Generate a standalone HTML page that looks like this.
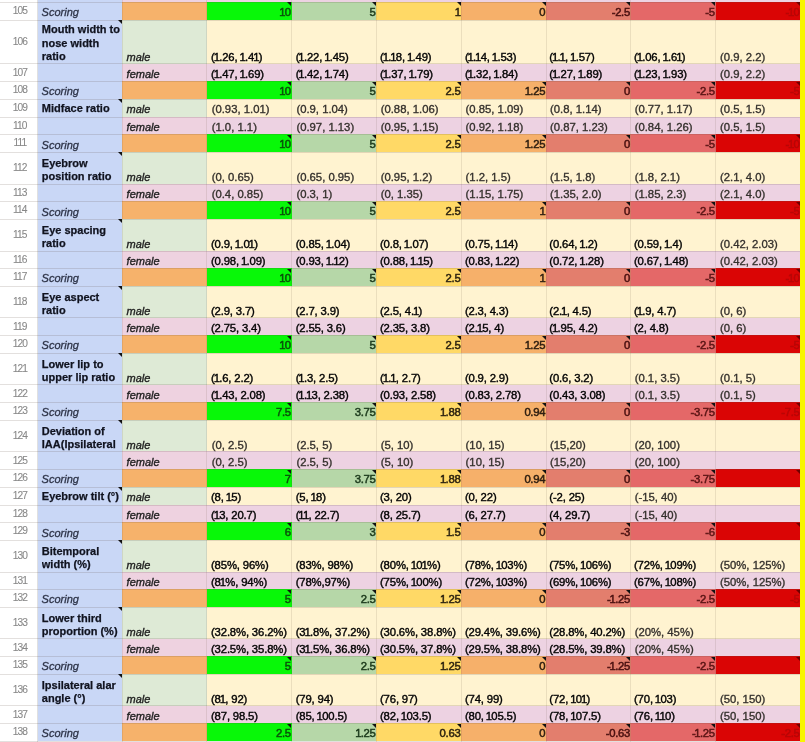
<!DOCTYPE html><html><head><meta charset="utf-8"><style>
html,body{margin:0;padding:0;}
body{width:805px;height:742px;overflow:hidden;position:relative;background:#fff;font-family:"Liberation Sans",sans-serif;}
.wrap{position:absolute;left:0;top:0;width:805px;height:742px;overflow:hidden;filter:blur(0.35px);}
.b{position:absolute;}
.hl{position:absolute;left:0;width:800px;height:1px;background:rgba(90,70,60,0.17);}
.hr{position:absolute;top:0;height:742px;width:1px;background:rgba(0,0,0,0.12);}
.vl{position:absolute;top:0;height:742px;width:1px;background:rgba(90,70,60,0.12);}
.t{position:absolute;white-space:nowrap;height:20px;line-height:20px;}
.o{margin-left:-1px;letter-spacing:-0.7px;}
.rn{width:39px;text-align:center;color:#888;letter-spacing:-0.9px;-webkit-text-stroke:0.1px currentColor;}
.sc{font-style:italic;color:#2e3448;-webkit-text-stroke:0.3px currentColor;}
.g{font-style:italic;color:#222;-webkit-text-stroke:0.35px currentColor;}
.dv{color:#050505;letter-spacing:-0.15px;-webkit-text-stroke:0.4px currentColor;}
.dg{color:#35312d;-webkit-text-stroke:0.35px currentColor;}
.sv{letter-spacing:-0.3px;-webkit-text-stroke:0.5px currentColor;}
.lab{position:absolute;width:82px;font-size:11px;line-height:13.4px;font-weight:bold;color:#10131f;-webkit-text-stroke:0.25px currentColor;overflow:hidden;}
.tri{position:absolute;width:0;height:0;border-top:4.5px solid #111;border-left:4.5px solid transparent;}
</style></head><body><div class="wrap"><div class="b" style="left:37.60px;top:0.00px;width:84.50px;height:1.90px;background:#c9d7f6"></div>
<div class="b" style="left:122.10px;top:0.00px;width:84.80px;height:1.90px;background:#eed2e0"></div>
<div class="b" style="left:206.90px;top:0.00px;width:593.53px;height:1.90px;background:#edd2e2"></div>
<div class="b" style="left:800.43px;top:0.00px;width:4.57px;height:742.00px;background:#f8f500"></div>
<div class="b" style="left:37.60px;top:1.90px;width:84.50px;height:17.73px;background:#c9d7f6"></div>
<div class="b" style="left:122.10px;top:1.90px;width:84.80px;height:17.73px;background:#f6b26b"></div>
<div class="b" style="left:206.90px;top:1.90px;width:84.79px;height:17.73px;background:#08f808"></div>
<div class="b" style="left:291.69px;top:1.90px;width:84.79px;height:17.73px;background:#b6d7a8"></div>
<div class="b" style="left:376.48px;top:1.90px;width:84.79px;height:17.73px;background:#ffd966"></div>
<div class="b" style="left:461.27px;top:1.90px;width:84.79px;height:17.73px;background:#f6b06a"></div>
<div class="b" style="left:546.06px;top:1.90px;width:84.79px;height:17.73px;background:#e37e6d"></div>
<div class="b" style="left:630.85px;top:1.90px;width:84.79px;height:17.73px;background:#e46868"></div>
<div class="b" style="left:715.64px;top:1.90px;width:84.79px;height:17.73px;background:#da0505"></div>
<div class="b" style="left:37.60px;top:19.63px;width:84.50px;height:43.89px;background:#c9d7f6"></div>
<div class="b" style="left:122.10px;top:19.63px;width:84.80px;height:43.89px;background:#deead6"></div>
<div class="b" style="left:206.90px;top:19.63px;width:593.53px;height:43.89px;background:#fff3d0"></div>
<div class="b" style="left:37.60px;top:63.52px;width:84.50px;height:17.73px;background:#c9d7f6"></div>
<div class="b" style="left:122.10px;top:63.52px;width:84.80px;height:17.73px;background:#eed2e0"></div>
<div class="b" style="left:206.90px;top:63.52px;width:593.53px;height:17.73px;background:#edd2e2"></div>
<div class="b" style="left:37.60px;top:81.25px;width:84.50px;height:17.73px;background:#c9d7f6"></div>
<div class="b" style="left:122.10px;top:81.25px;width:84.80px;height:17.73px;background:#f6b26b"></div>
<div class="b" style="left:206.90px;top:81.25px;width:84.79px;height:17.73px;background:#08f808"></div>
<div class="b" style="left:291.69px;top:81.25px;width:84.79px;height:17.73px;background:#b6d7a8"></div>
<div class="b" style="left:376.48px;top:81.25px;width:84.79px;height:17.73px;background:#ffd966"></div>
<div class="b" style="left:461.27px;top:81.25px;width:84.79px;height:17.73px;background:#f6b06a"></div>
<div class="b" style="left:546.06px;top:81.25px;width:84.79px;height:17.73px;background:#e37e6d"></div>
<div class="b" style="left:630.85px;top:81.25px;width:84.79px;height:17.73px;background:#e46868"></div>
<div class="b" style="left:715.64px;top:81.25px;width:84.79px;height:17.73px;background:#da0505"></div>
<div class="b" style="left:37.60px;top:98.99px;width:84.50px;height:17.73px;background:#c9d7f6"></div>
<div class="b" style="left:122.10px;top:98.99px;width:84.80px;height:17.73px;background:#deead6"></div>
<div class="b" style="left:206.90px;top:98.99px;width:593.53px;height:17.73px;background:#fff3d0"></div>
<div class="b" style="left:37.60px;top:116.72px;width:84.50px;height:17.73px;background:#c9d7f6"></div>
<div class="b" style="left:122.10px;top:116.72px;width:84.80px;height:17.73px;background:#eed2e0"></div>
<div class="b" style="left:206.90px;top:116.72px;width:593.53px;height:17.73px;background:#edd2e2"></div>
<div class="b" style="left:37.60px;top:134.45px;width:84.50px;height:17.73px;background:#c9d7f6"></div>
<div class="b" style="left:122.10px;top:134.45px;width:84.80px;height:17.73px;background:#f6b26b"></div>
<div class="b" style="left:206.90px;top:134.45px;width:84.79px;height:17.73px;background:#08f808"></div>
<div class="b" style="left:291.69px;top:134.45px;width:84.79px;height:17.73px;background:#b6d7a8"></div>
<div class="b" style="left:376.48px;top:134.45px;width:84.79px;height:17.73px;background:#ffd966"></div>
<div class="b" style="left:461.27px;top:134.45px;width:84.79px;height:17.73px;background:#f6b06a"></div>
<div class="b" style="left:546.06px;top:134.45px;width:84.79px;height:17.73px;background:#e37e6d"></div>
<div class="b" style="left:630.85px;top:134.45px;width:84.79px;height:17.73px;background:#e46868"></div>
<div class="b" style="left:715.64px;top:134.45px;width:84.79px;height:17.73px;background:#da0505"></div>
<div class="b" style="left:37.60px;top:152.19px;width:84.50px;height:31.49px;background:#c9d7f6"></div>
<div class="b" style="left:122.10px;top:152.19px;width:84.80px;height:31.49px;background:#deead6"></div>
<div class="b" style="left:206.90px;top:152.19px;width:593.53px;height:31.49px;background:#fff3d0"></div>
<div class="b" style="left:37.60px;top:183.67px;width:84.50px;height:17.73px;background:#c9d7f6"></div>
<div class="b" style="left:122.10px;top:183.67px;width:84.80px;height:17.73px;background:#eed2e0"></div>
<div class="b" style="left:206.90px;top:183.67px;width:593.53px;height:17.73px;background:#edd2e2"></div>
<div class="b" style="left:37.60px;top:201.41px;width:84.50px;height:17.73px;background:#c9d7f6"></div>
<div class="b" style="left:122.10px;top:201.41px;width:84.80px;height:17.73px;background:#f6b26b"></div>
<div class="b" style="left:206.90px;top:201.41px;width:84.79px;height:17.73px;background:#08f808"></div>
<div class="b" style="left:291.69px;top:201.41px;width:84.79px;height:17.73px;background:#b6d7a8"></div>
<div class="b" style="left:376.48px;top:201.41px;width:84.79px;height:17.73px;background:#ffd966"></div>
<div class="b" style="left:461.27px;top:201.41px;width:84.79px;height:17.73px;background:#f6b06a"></div>
<div class="b" style="left:546.06px;top:201.41px;width:84.79px;height:17.73px;background:#e37e6d"></div>
<div class="b" style="left:630.85px;top:201.41px;width:84.79px;height:17.73px;background:#e46868"></div>
<div class="b" style="left:715.64px;top:201.41px;width:84.79px;height:17.73px;background:#da0505"></div>
<div class="b" style="left:37.60px;top:219.14px;width:84.50px;height:31.49px;background:#c9d7f6"></div>
<div class="b" style="left:122.10px;top:219.14px;width:84.80px;height:31.49px;background:#deead6"></div>
<div class="b" style="left:206.90px;top:219.14px;width:593.53px;height:31.49px;background:#fff3d0"></div>
<div class="b" style="left:37.60px;top:250.62px;width:84.50px;height:17.73px;background:#c9d7f6"></div>
<div class="b" style="left:122.10px;top:250.62px;width:84.80px;height:17.73px;background:#eed2e0"></div>
<div class="b" style="left:206.90px;top:250.62px;width:593.53px;height:17.73px;background:#edd2e2"></div>
<div class="b" style="left:37.60px;top:268.36px;width:84.50px;height:17.73px;background:#c9d7f6"></div>
<div class="b" style="left:122.10px;top:268.36px;width:84.80px;height:17.73px;background:#f6b26b"></div>
<div class="b" style="left:206.90px;top:268.36px;width:84.79px;height:17.73px;background:#08f808"></div>
<div class="b" style="left:291.69px;top:268.36px;width:84.79px;height:17.73px;background:#b6d7a8"></div>
<div class="b" style="left:376.48px;top:268.36px;width:84.79px;height:17.73px;background:#ffd966"></div>
<div class="b" style="left:461.27px;top:268.36px;width:84.79px;height:17.73px;background:#f6b06a"></div>
<div class="b" style="left:546.06px;top:268.36px;width:84.79px;height:17.73px;background:#e37e6d"></div>
<div class="b" style="left:630.85px;top:268.36px;width:84.79px;height:17.73px;background:#e46868"></div>
<div class="b" style="left:715.64px;top:268.36px;width:84.79px;height:17.73px;background:#da0505"></div>
<div class="b" style="left:37.60px;top:286.09px;width:84.50px;height:31.49px;background:#c9d7f6"></div>
<div class="b" style="left:122.10px;top:286.09px;width:84.80px;height:31.49px;background:#deead6"></div>
<div class="b" style="left:206.90px;top:286.09px;width:593.53px;height:31.49px;background:#fff3d0"></div>
<div class="b" style="left:37.60px;top:317.58px;width:84.50px;height:17.73px;background:#c9d7f6"></div>
<div class="b" style="left:122.10px;top:317.58px;width:84.80px;height:17.73px;background:#eed2e0"></div>
<div class="b" style="left:206.90px;top:317.58px;width:593.53px;height:17.73px;background:#edd2e2"></div>
<div class="b" style="left:37.60px;top:335.31px;width:84.50px;height:17.73px;background:#c9d7f6"></div>
<div class="b" style="left:122.10px;top:335.31px;width:84.80px;height:17.73px;background:#f6b26b"></div>
<div class="b" style="left:206.90px;top:335.31px;width:84.79px;height:17.73px;background:#08f808"></div>
<div class="b" style="left:291.69px;top:335.31px;width:84.79px;height:17.73px;background:#b6d7a8"></div>
<div class="b" style="left:376.48px;top:335.31px;width:84.79px;height:17.73px;background:#ffd966"></div>
<div class="b" style="left:461.27px;top:335.31px;width:84.79px;height:17.73px;background:#f6b06a"></div>
<div class="b" style="left:546.06px;top:335.31px;width:84.79px;height:17.73px;background:#e37e6d"></div>
<div class="b" style="left:630.85px;top:335.31px;width:84.79px;height:17.73px;background:#e46868"></div>
<div class="b" style="left:715.64px;top:335.31px;width:84.79px;height:17.73px;background:#da0505"></div>
<div class="b" style="left:37.60px;top:353.04px;width:84.50px;height:31.49px;background:#c9d7f6"></div>
<div class="b" style="left:122.10px;top:353.04px;width:84.80px;height:31.49px;background:#deead6"></div>
<div class="b" style="left:206.90px;top:353.04px;width:593.53px;height:31.49px;background:#fff3d0"></div>
<div class="b" style="left:37.60px;top:384.53px;width:84.50px;height:17.73px;background:#c9d7f6"></div>
<div class="b" style="left:122.10px;top:384.53px;width:84.80px;height:17.73px;background:#eed2e0"></div>
<div class="b" style="left:206.90px;top:384.53px;width:593.53px;height:17.73px;background:#edd2e2"></div>
<div class="b" style="left:37.60px;top:402.26px;width:84.50px;height:17.73px;background:#c9d7f6"></div>
<div class="b" style="left:122.10px;top:402.26px;width:84.80px;height:17.73px;background:#f6b26b"></div>
<div class="b" style="left:206.90px;top:402.26px;width:84.79px;height:17.73px;background:#08f808"></div>
<div class="b" style="left:291.69px;top:402.26px;width:84.79px;height:17.73px;background:#b6d7a8"></div>
<div class="b" style="left:376.48px;top:402.26px;width:84.79px;height:17.73px;background:#ffd966"></div>
<div class="b" style="left:461.27px;top:402.26px;width:84.79px;height:17.73px;background:#f6b06a"></div>
<div class="b" style="left:546.06px;top:402.26px;width:84.79px;height:17.73px;background:#e37e6d"></div>
<div class="b" style="left:630.85px;top:402.26px;width:84.79px;height:17.73px;background:#e46868"></div>
<div class="b" style="left:715.64px;top:402.26px;width:84.79px;height:17.73px;background:#da0505"></div>
<div class="b" style="left:37.60px;top:419.99px;width:84.50px;height:31.49px;background:#c9d7f6"></div>
<div class="b" style="left:122.10px;top:419.99px;width:84.80px;height:31.49px;background:#deead6"></div>
<div class="b" style="left:206.90px;top:419.99px;width:593.53px;height:31.49px;background:#fff3d0"></div>
<div class="b" style="left:37.60px;top:451.48px;width:84.50px;height:17.73px;background:#c9d7f6"></div>
<div class="b" style="left:122.10px;top:451.48px;width:84.80px;height:17.73px;background:#eed2e0"></div>
<div class="b" style="left:206.90px;top:451.48px;width:593.53px;height:17.73px;background:#edd2e2"></div>
<div class="b" style="left:37.60px;top:469.21px;width:84.50px;height:17.73px;background:#c9d7f6"></div>
<div class="b" style="left:122.10px;top:469.21px;width:84.80px;height:17.73px;background:#f6b26b"></div>
<div class="b" style="left:206.90px;top:469.21px;width:84.79px;height:17.73px;background:#08f808"></div>
<div class="b" style="left:291.69px;top:469.21px;width:84.79px;height:17.73px;background:#b6d7a8"></div>
<div class="b" style="left:376.48px;top:469.21px;width:84.79px;height:17.73px;background:#ffd966"></div>
<div class="b" style="left:461.27px;top:469.21px;width:84.79px;height:17.73px;background:#f6b06a"></div>
<div class="b" style="left:546.06px;top:469.21px;width:84.79px;height:17.73px;background:#e37e6d"></div>
<div class="b" style="left:630.85px;top:469.21px;width:84.79px;height:17.73px;background:#e46868"></div>
<div class="b" style="left:715.64px;top:469.21px;width:84.79px;height:17.73px;background:#da0505"></div>
<div class="b" style="left:37.60px;top:486.95px;width:84.50px;height:17.73px;background:#c9d7f6"></div>
<div class="b" style="left:122.10px;top:486.95px;width:84.80px;height:17.73px;background:#deead6"></div>
<div class="b" style="left:206.90px;top:486.95px;width:593.53px;height:17.73px;background:#fff3d0"></div>
<div class="b" style="left:37.60px;top:504.68px;width:84.50px;height:17.73px;background:#c9d7f6"></div>
<div class="b" style="left:122.10px;top:504.68px;width:84.80px;height:17.73px;background:#eed2e0"></div>
<div class="b" style="left:206.90px;top:504.68px;width:593.53px;height:17.73px;background:#edd2e2"></div>
<div class="b" style="left:37.60px;top:522.41px;width:84.50px;height:17.73px;background:#c9d7f6"></div>
<div class="b" style="left:122.10px;top:522.41px;width:84.80px;height:17.73px;background:#f6b26b"></div>
<div class="b" style="left:206.90px;top:522.41px;width:84.79px;height:17.73px;background:#08f808"></div>
<div class="b" style="left:291.69px;top:522.41px;width:84.79px;height:17.73px;background:#b6d7a8"></div>
<div class="b" style="left:376.48px;top:522.41px;width:84.79px;height:17.73px;background:#ffd966"></div>
<div class="b" style="left:461.27px;top:522.41px;width:84.79px;height:17.73px;background:#f6b06a"></div>
<div class="b" style="left:546.06px;top:522.41px;width:84.79px;height:17.73px;background:#e37e6d"></div>
<div class="b" style="left:630.85px;top:522.41px;width:84.79px;height:17.73px;background:#e46868"></div>
<div class="b" style="left:715.64px;top:522.41px;width:84.79px;height:17.73px;background:#da0505"></div>
<div class="b" style="left:37.60px;top:540.14px;width:84.50px;height:31.49px;background:#c9d7f6"></div>
<div class="b" style="left:122.10px;top:540.14px;width:84.80px;height:31.49px;background:#deead6"></div>
<div class="b" style="left:206.90px;top:540.14px;width:593.53px;height:31.49px;background:#fff3d0"></div>
<div class="b" style="left:37.60px;top:571.63px;width:84.50px;height:17.73px;background:#c9d7f6"></div>
<div class="b" style="left:122.10px;top:571.63px;width:84.80px;height:17.73px;background:#eed2e0"></div>
<div class="b" style="left:206.90px;top:571.63px;width:593.53px;height:17.73px;background:#edd2e2"></div>
<div class="b" style="left:37.60px;top:589.36px;width:84.50px;height:17.73px;background:#c9d7f6"></div>
<div class="b" style="left:122.10px;top:589.36px;width:84.80px;height:17.73px;background:#f6b26b"></div>
<div class="b" style="left:206.90px;top:589.36px;width:84.79px;height:17.73px;background:#08f808"></div>
<div class="b" style="left:291.69px;top:589.36px;width:84.79px;height:17.73px;background:#b6d7a8"></div>
<div class="b" style="left:376.48px;top:589.36px;width:84.79px;height:17.73px;background:#ffd966"></div>
<div class="b" style="left:461.27px;top:589.36px;width:84.79px;height:17.73px;background:#f6b06a"></div>
<div class="b" style="left:546.06px;top:589.36px;width:84.79px;height:17.73px;background:#e37e6d"></div>
<div class="b" style="left:630.85px;top:589.36px;width:84.79px;height:17.73px;background:#e46868"></div>
<div class="b" style="left:715.64px;top:589.36px;width:84.79px;height:17.73px;background:#da0505"></div>
<div class="b" style="left:37.60px;top:607.10px;width:84.50px;height:31.49px;background:#c9d7f6"></div>
<div class="b" style="left:122.10px;top:607.10px;width:84.80px;height:31.49px;background:#deead6"></div>
<div class="b" style="left:206.90px;top:607.10px;width:593.53px;height:31.49px;background:#fff3d0"></div>
<div class="b" style="left:37.60px;top:638.58px;width:84.50px;height:17.73px;background:#c9d7f6"></div>
<div class="b" style="left:122.10px;top:638.58px;width:84.80px;height:17.73px;background:#eed2e0"></div>
<div class="b" style="left:206.90px;top:638.58px;width:593.53px;height:17.73px;background:#edd2e2"></div>
<div class="b" style="left:37.60px;top:656.32px;width:84.50px;height:17.73px;background:#c9d7f6"></div>
<div class="b" style="left:122.10px;top:656.32px;width:84.80px;height:17.73px;background:#f6b26b"></div>
<div class="b" style="left:206.90px;top:656.32px;width:84.79px;height:17.73px;background:#08f808"></div>
<div class="b" style="left:291.69px;top:656.32px;width:84.79px;height:17.73px;background:#b6d7a8"></div>
<div class="b" style="left:376.48px;top:656.32px;width:84.79px;height:17.73px;background:#ffd966"></div>
<div class="b" style="left:461.27px;top:656.32px;width:84.79px;height:17.73px;background:#f6b06a"></div>
<div class="b" style="left:546.06px;top:656.32px;width:84.79px;height:17.73px;background:#e37e6d"></div>
<div class="b" style="left:630.85px;top:656.32px;width:84.79px;height:17.73px;background:#e46868"></div>
<div class="b" style="left:715.64px;top:656.32px;width:84.79px;height:17.73px;background:#da0505"></div>
<div class="b" style="left:37.60px;top:674.05px;width:84.50px;height:31.49px;background:#c9d7f6"></div>
<div class="b" style="left:122.10px;top:674.05px;width:84.80px;height:31.49px;background:#deead6"></div>
<div class="b" style="left:206.90px;top:674.05px;width:593.53px;height:31.49px;background:#fff3d0"></div>
<div class="b" style="left:37.60px;top:705.53px;width:84.50px;height:17.73px;background:#c9d7f6"></div>
<div class="b" style="left:122.10px;top:705.53px;width:84.80px;height:17.73px;background:#eed2e0"></div>
<div class="b" style="left:206.90px;top:705.53px;width:593.53px;height:17.73px;background:#edd2e2"></div>
<div class="b" style="left:37.60px;top:723.27px;width:84.50px;height:17.73px;background:#c9d7f6"></div>
<div class="b" style="left:122.10px;top:723.27px;width:84.80px;height:17.73px;background:#f6b26b"></div>
<div class="b" style="left:206.90px;top:723.27px;width:84.79px;height:17.73px;background:#08f808"></div>
<div class="b" style="left:291.69px;top:723.27px;width:84.79px;height:17.73px;background:#b6d7a8"></div>
<div class="b" style="left:376.48px;top:723.27px;width:84.79px;height:17.73px;background:#ffd966"></div>
<div class="b" style="left:461.27px;top:723.27px;width:84.79px;height:17.73px;background:#f6b06a"></div>
<div class="b" style="left:546.06px;top:723.27px;width:84.79px;height:17.73px;background:#e37e6d"></div>
<div class="b" style="left:630.85px;top:723.27px;width:84.79px;height:17.73px;background:#e46868"></div>
<div class="b" style="left:715.64px;top:723.27px;width:84.79px;height:17.73px;background:#da0505"></div>
<div class="hl" style="top:1.80px"></div>
<div class="hl" style="top:19.53px"></div>
<div class="hl" style="top:63.42px"></div>
<div class="hl" style="top:81.15px"></div>
<div class="hl" style="top:98.89px"></div>
<div class="hl" style="top:116.62px"></div>
<div class="hl" style="top:134.35px"></div>
<div class="hl" style="top:152.09px"></div>
<div class="hl" style="top:183.57px"></div>
<div class="hl" style="top:201.31px"></div>
<div class="hl" style="top:219.04px"></div>
<div class="hl" style="top:250.52px"></div>
<div class="hl" style="top:268.26px"></div>
<div class="hl" style="top:285.99px"></div>
<div class="hl" style="top:317.48px"></div>
<div class="hl" style="top:335.21px"></div>
<div class="hl" style="top:352.94px"></div>
<div class="hl" style="top:384.43px"></div>
<div class="hl" style="top:402.16px"></div>
<div class="hl" style="top:419.89px"></div>
<div class="hl" style="top:451.38px"></div>
<div class="hl" style="top:469.11px"></div>
<div class="hl" style="top:486.85px"></div>
<div class="hl" style="top:504.58px"></div>
<div class="hl" style="top:522.31px"></div>
<div class="hl" style="top:540.04px"></div>
<div class="hl" style="top:571.53px"></div>
<div class="hl" style="top:589.26px"></div>
<div class="hl" style="top:607.00px"></div>
<div class="hl" style="top:638.48px"></div>
<div class="hl" style="top:656.22px"></div>
<div class="hl" style="top:673.95px"></div>
<div class="hl" style="top:705.43px"></div>
<div class="hl" style="top:723.17px"></div>
<div class="hl" style="top:740.90px"></div>
<div class="hr" style="left:37.10px"></div>
<div class="vl" style="left:121.60px"></div>
<div class="vl" style="left:206.40px"></div>
<div class="vl" style="left:291.19px"></div>
<div class="vl" style="left:375.98px"></div>
<div class="vl" style="left:460.77px"></div>
<div class="vl" style="left:545.56px"></div>
<div class="vl" style="left:630.35px"></div>
<div class="vl" style="left:715.14px"></div>
<div class="t rn" style="left:0.30px;top:0.93px;font-size:10.2px;">105</div>
<div class="t sc" style="left:41.60px;top:2.02px;font-size:11px;">Scoring</div>
<div class="t sv" style="right:514.21px;top:1.92px;font-size:11.3px;color:#0a500a"><span class="o">1</span>0</div>
<div class="t sv" style="right:429.42px;top:1.92px;font-size:11.3px;color:#1c3a1c">5</div>
<div class="t sv" style="right:344.63px;top:1.92px;font-size:11.3px;color:#2e2410"><span class="o">1</span></div>
<div class="t sv" style="right:259.84px;top:1.92px;font-size:11.3px;color:#2e1e10">0</div>
<div class="t sv" style="right:175.05px;top:1.92px;font-size:11.3px;color:#4a1010">-2.5</div>
<div class="t sv" style="right:90.26px;top:1.92px;font-size:11.3px;color:#5a1414">-5</div>
<div class="t sv" style="right:5.47px;top:1.92px;font-size:11.3px;color:#b80606">-<span class="o">1</span>0</div>
<div class="t rn" style="left:0.30px;top:31.74px;font-size:10.2px;">106</div>
<div class="lab" style="left:41.80px;top:23.12px;height:40.40px">Mouth width to nose width ratio</div>
<div class="t g" style="left:126.60px;top:46.71px;font-size:11px;">male</div>
<div class="t dv" style="left:211.00px;top:46.61px;font-size:11.3px;">(<span class="o">1</span>.26, <span class="o">1</span>.4<span class="o">1</span>)</div>
<div class="t dv" style="left:295.70px;top:46.61px;font-size:11.3px;">(<span class="o">1</span>.22, <span class="o">1</span>.45)</div>
<div class="t dv" style="left:380.00px;top:46.61px;font-size:11.3px;">(<span class="o">1</span>.<span class="o">1</span>8, <span class="o">1</span>.49)</div>
<div class="t dv" style="left:464.90px;top:46.61px;font-size:11.3px;">(<span class="o">1</span>.<span class="o">1</span>4, <span class="o">1</span>.53)</div>
<div class="t dv" style="left:549.30px;top:46.61px;font-size:11.3px;">(<span class="o">1</span>.<span class="o">1</span>, <span class="o">1</span>.57)</div>
<div class="t dv" style="left:634.00px;top:46.61px;font-size:11.3px;">(<span class="o">1</span>.06, <span class="o">1</span>.6<span class="o">1</span>)</div>
<div class="t dg" style="left:720.00px;top:46.61px;font-size:11.3px;">(0.9, 2.2)</div>
<div class="t rn" style="left:0.30px;top:62.55px;font-size:10.2px;">107</div>
<div class="t g" style="left:126.60px;top:63.64px;font-size:11px;">female</div>
<div class="t dv" style="left:211.00px;top:63.54px;font-size:11.3px;">(<span class="o">1</span>.47, <span class="o">1</span>.69)</div>
<div class="t dv" style="left:295.70px;top:63.54px;font-size:11.3px;">(<span class="o">1</span>.42, <span class="o">1</span>.74)</div>
<div class="t dv" style="left:380.00px;top:63.54px;font-size:11.3px;">(<span class="o">1</span>.37, <span class="o">1</span>.79)</div>
<div class="t dv" style="left:464.90px;top:63.54px;font-size:11.3px;">(<span class="o">1</span>.32, <span class="o">1</span>.84)</div>
<div class="t dv" style="left:549.30px;top:63.54px;font-size:11.3px;">(<span class="o">1</span>.27, <span class="o">1</span>.89)</div>
<div class="t dv" style="left:634.00px;top:63.54px;font-size:11.3px;">(<span class="o">1</span>.23, <span class="o">1</span>.93)</div>
<div class="t dg" style="left:720.00px;top:63.54px;font-size:11.3px;">(0.9, 2.2)</div>
<div class="t rn" style="left:0.30px;top:80.29px;font-size:10.2px;">108</div>
<div class="t sc" style="left:41.60px;top:81.38px;font-size:11px;">Scoring</div>
<div class="t sv" style="right:514.21px;top:81.27px;font-size:11.3px;color:#0a500a"><span class="o">1</span>0</div>
<div class="t sv" style="right:429.42px;top:81.27px;font-size:11.3px;color:#1c3a1c">5</div>
<div class="t sv" style="right:344.63px;top:81.27px;font-size:11.3px;color:#2e2410">2.5</div>
<div class="t sv" style="right:259.84px;top:81.27px;font-size:11.3px;color:#2e1e10"><span class="o">1</span>.25</div>
<div class="t sv" style="right:175.05px;top:81.27px;font-size:11.3px;color:#4a1010">0</div>
<div class="t sv" style="right:90.26px;top:81.27px;font-size:11.3px;color:#5a1414">-2.5</div>
<div class="t sv" style="right:5.47px;top:81.27px;font-size:11.3px;color:#b80606">-5</div>
<div class="t rn" style="left:0.30px;top:98.02px;font-size:10.2px;">109</div>
<div class="lab" style="left:41.80px;top:102.28px;height:14.44px">Midface ratio</div>
<div class="t g" style="left:126.60px;top:99.11px;font-size:11px;">male</div>
<div class="t dg" style="left:211.70px;top:99.00px;font-size:11.3px;">(0.93, 1.01)</div>
<div class="t dg" style="left:296.40px;top:99.00px;font-size:11.3px;">(0.9, 1.04)</div>
<div class="t dg" style="left:380.70px;top:99.00px;font-size:11.3px;">(0.88, 1.06)</div>
<div class="t dg" style="left:465.60px;top:99.00px;font-size:11.3px;">(0.85, 1.09)</div>
<div class="t dg" style="left:550.00px;top:99.00px;font-size:11.3px;">(0.8, 1.14)</div>
<div class="t dg" style="left:634.70px;top:99.00px;font-size:11.3px;">(0.77, 1.17)</div>
<div class="t dg" style="left:720.00px;top:99.00px;font-size:11.3px;">(0.5, 1.5)</div>
<div class="t rn" style="left:0.30px;top:115.75px;font-size:10.2px;">110</div>
<div class="t g" style="left:126.60px;top:116.84px;font-size:11px;">female</div>
<div class="t dg" style="left:211.70px;top:116.74px;font-size:11.3px;">(1.0, 1.1)</div>
<div class="t dg" style="left:296.40px;top:116.74px;font-size:11.3px;">(0.97, 1.13)</div>
<div class="t dg" style="left:380.70px;top:116.74px;font-size:11.3px;">(0.95, 1.15)</div>
<div class="t dg" style="left:465.60px;top:116.74px;font-size:11.3px;">(0.92, 1.18)</div>
<div class="t dg" style="left:550.00px;top:116.74px;font-size:11.3px;">(0.87, 1.23)</div>
<div class="t dg" style="left:634.70px;top:116.74px;font-size:11.3px;">(0.84, 1.26)</div>
<div class="t dg" style="left:720.00px;top:116.74px;font-size:11.3px;">(0.5, 1.5)</div>
<div class="t rn" style="left:0.30px;top:133.49px;font-size:10.2px;">111</div>
<div class="t sc" style="left:41.60px;top:134.57px;font-size:11px;">Scoring</div>
<div class="t sv" style="right:514.21px;top:134.47px;font-size:11.3px;color:#0a500a"><span class="o">1</span>0</div>
<div class="t sv" style="right:429.42px;top:134.47px;font-size:11.3px;color:#1c3a1c">5</div>
<div class="t sv" style="right:344.63px;top:134.47px;font-size:11.3px;color:#2e2410">2.5</div>
<div class="t sv" style="right:259.84px;top:134.47px;font-size:11.3px;color:#2e1e10"><span class="o">1</span>.25</div>
<div class="t sv" style="right:175.05px;top:134.47px;font-size:11.3px;color:#4a1010">0</div>
<div class="t sv" style="right:90.26px;top:134.47px;font-size:11.3px;color:#5a1414">-5</div>
<div class="t sv" style="right:5.47px;top:134.47px;font-size:11.3px;color:#b80606">-<span class="o">1</span>0</div>
<div class="t rn" style="left:0.30px;top:158.09px;font-size:10.2px;">112</div>
<div class="lab" style="left:41.80px;top:157.07px;height:26.60px">Eyebrow position ratio</div>
<div class="t g" style="left:126.60px;top:166.86px;font-size:11px;">male</div>
<div class="t dg" style="left:211.70px;top:166.76px;font-size:11.3px;">(0, 0.65)</div>
<div class="t dg" style="left:296.40px;top:166.76px;font-size:11.3px;">(0.65, 0.95)</div>
<div class="t dg" style="left:380.70px;top:166.76px;font-size:11.3px;">(0.95, 1.2)</div>
<div class="t dg" style="left:465.60px;top:166.76px;font-size:11.3px;">(1.2, 1.5)</div>
<div class="t dg" style="left:550.00px;top:166.76px;font-size:11.3px;">(1.5, 1.8)</div>
<div class="t dg" style="left:634.70px;top:166.76px;font-size:11.3px;">(1.8, 2.1)</div>
<div class="t dg" style="left:720.00px;top:166.76px;font-size:11.3px;">(2.1, 4.0)</div>
<div class="t rn" style="left:0.30px;top:182.70px;font-size:10.2px;">113</div>
<div class="t g" style="left:126.60px;top:183.79px;font-size:11px;">female</div>
<div class="t dg" style="left:211.70px;top:183.69px;font-size:11.3px;">(0.4, 0.85)</div>
<div class="t dg" style="left:296.40px;top:183.69px;font-size:11.3px;">(0.3, 1)</div>
<div class="t dg" style="left:380.70px;top:183.69px;font-size:11.3px;">(0, 1.35)</div>
<div class="t dg" style="left:465.60px;top:183.69px;font-size:11.3px;">(1.15, 1.75)</div>
<div class="t dg" style="left:550.00px;top:183.69px;font-size:11.3px;">(1.35, 2.0)</div>
<div class="t dg" style="left:634.70px;top:183.69px;font-size:11.3px;">(1.85, 2.3)</div>
<div class="t dg" style="left:720.00px;top:183.69px;font-size:11.3px;">(2.1, 4.0)</div>
<div class="t rn" style="left:0.30px;top:200.44px;font-size:10.2px;">114</div>
<div class="t sc" style="left:41.60px;top:201.53px;font-size:11px;">Scoring</div>
<div class="t sv" style="right:514.21px;top:201.42px;font-size:11.3px;color:#0a500a"><span class="o">1</span>0</div>
<div class="t sv" style="right:429.42px;top:201.42px;font-size:11.3px;color:#1c3a1c">5</div>
<div class="t sv" style="right:344.63px;top:201.42px;font-size:11.3px;color:#2e2410">2.5</div>
<div class="t sv" style="right:259.84px;top:201.42px;font-size:11.3px;color:#2e1e10"><span class="o">1</span></div>
<div class="t sv" style="right:175.05px;top:201.42px;font-size:11.3px;color:#4a1010">0</div>
<div class="t sv" style="right:90.26px;top:201.42px;font-size:11.3px;color:#5a1414">-2.5</div>
<div class="t sv" style="right:5.47px;top:201.42px;font-size:11.3px;color:#b80606">-5</div>
<div class="t rn" style="left:0.30px;top:225.05px;font-size:10.2px;">115</div>
<div class="lab" style="left:41.80px;top:224.03px;height:26.60px">Eye spacing ratio</div>
<div class="t g" style="left:126.60px;top:233.81px;font-size:11px;">male</div>
<div class="t dv" style="left:211.00px;top:233.71px;font-size:11.3px;">(0.9, <span class="o">1</span>.0<span class="o">1</span>)</div>
<div class="t dv" style="left:295.70px;top:233.71px;font-size:11.3px;">(0.85, <span class="o">1</span>.04)</div>
<div class="t dv" style="left:380.00px;top:233.71px;font-size:11.3px;">(0.8, <span class="o">1</span>.07)</div>
<div class="t dv" style="left:464.90px;top:233.71px;font-size:11.3px;">(0.75, <span class="o">1</span>.<span class="o">1</span>4)</div>
<div class="t dv" style="left:549.30px;top:233.71px;font-size:11.3px;">(0.64, <span class="o">1</span>.2)</div>
<div class="t dv" style="left:634.00px;top:233.71px;font-size:11.3px;">(0.59, <span class="o">1</span>.4)</div>
<div class="t dg" style="left:720.00px;top:233.71px;font-size:11.3px;">(0.42, 2.03)</div>
<div class="t rn" style="left:0.30px;top:249.66px;font-size:10.2px;">116</div>
<div class="t g" style="left:126.60px;top:250.75px;font-size:11px;">female</div>
<div class="t dv" style="left:211.00px;top:250.64px;font-size:11.3px;">(0.98, <span class="o">1</span>.09)</div>
<div class="t dv" style="left:295.70px;top:250.64px;font-size:11.3px;">(0.93, <span class="o">1</span>.<span class="o">1</span>2)</div>
<div class="t dv" style="left:380.00px;top:250.64px;font-size:11.3px;">(0.88, <span class="o">1</span>.<span class="o">1</span>5)</div>
<div class="t dv" style="left:464.90px;top:250.64px;font-size:11.3px;">(0.83, <span class="o">1</span>.22)</div>
<div class="t dv" style="left:549.30px;top:250.64px;font-size:11.3px;">(0.72, <span class="o">1</span>.28)</div>
<div class="t dv" style="left:634.00px;top:250.64px;font-size:11.3px;">(0.67, <span class="o">1</span>.48)</div>
<div class="t dg" style="left:720.00px;top:250.64px;font-size:11.3px;">(0.42, 2.03)</div>
<div class="t rn" style="left:0.30px;top:267.39px;font-size:10.2px;">117</div>
<div class="t sc" style="left:41.60px;top:268.48px;font-size:11px;">Scoring</div>
<div class="t sv" style="right:514.21px;top:268.37px;font-size:11.3px;color:#0a500a"><span class="o">1</span>0</div>
<div class="t sv" style="right:429.42px;top:268.37px;font-size:11.3px;color:#1c3a1c">5</div>
<div class="t sv" style="right:344.63px;top:268.37px;font-size:11.3px;color:#2e2410">2.5</div>
<div class="t sv" style="right:259.84px;top:268.37px;font-size:11.3px;color:#2e1e10"><span class="o">1</span></div>
<div class="t sv" style="right:175.05px;top:268.37px;font-size:11.3px;color:#4a1010">0</div>
<div class="t sv" style="right:90.26px;top:268.37px;font-size:11.3px;color:#5a1414">-5</div>
<div class="t sv" style="right:5.47px;top:268.37px;font-size:11.3px;color:#b80606">-<span class="o">1</span>0</div>
<div class="t rn" style="left:0.30px;top:292.00px;font-size:10.2px;">118</div>
<div class="lab" style="left:41.80px;top:290.98px;height:26.60px">Eye aspect ratio</div>
<div class="t g" style="left:126.60px;top:300.76px;font-size:11px;">male</div>
<div class="t dv" style="left:211.00px;top:300.66px;font-size:11.3px;">(2.9, 3.7)</div>
<div class="t dv" style="left:295.70px;top:300.66px;font-size:11.3px;">(2.7, 3.9)</div>
<div class="t dv" style="left:380.00px;top:300.66px;font-size:11.3px;">(2.5, 4.<span class="o">1</span>)</div>
<div class="t dv" style="left:464.90px;top:300.66px;font-size:11.3px;">(2.3, 4.3)</div>
<div class="t dv" style="left:549.30px;top:300.66px;font-size:11.3px;">(2.<span class="o">1</span>, 4.5)</div>
<div class="t dv" style="left:634.00px;top:300.66px;font-size:11.3px;">(<span class="o">1</span>.9, 4.7)</div>
<div class="t dg" style="left:720.00px;top:300.66px;font-size:11.3px;">(0, 6)</div>
<div class="t rn" style="left:0.30px;top:316.61px;font-size:10.2px;">119</div>
<div class="t g" style="left:126.60px;top:317.70px;font-size:11px;">female</div>
<div class="t dv" style="left:211.00px;top:317.59px;font-size:11.3px;">(2.75, 3.4)</div>
<div class="t dv" style="left:295.70px;top:317.59px;font-size:11.3px;">(2.55, 3.6)</div>
<div class="t dv" style="left:380.00px;top:317.59px;font-size:11.3px;">(2.35, 3.8)</div>
<div class="t dv" style="left:464.90px;top:317.59px;font-size:11.3px;">(2.<span class="o">1</span>5, 4)</div>
<div class="t dv" style="left:549.30px;top:317.59px;font-size:11.3px;">(<span class="o">1</span>.95, 4.2)</div>
<div class="t dv" style="left:634.00px;top:317.59px;font-size:11.3px;">(2, 4.8)</div>
<div class="t dg" style="left:720.00px;top:317.59px;font-size:11.3px;">(0, 6)</div>
<div class="t rn" style="left:0.30px;top:334.34px;font-size:10.2px;">120</div>
<div class="t sc" style="left:41.60px;top:335.43px;font-size:11px;">Scoring</div>
<div class="t sv" style="right:514.21px;top:335.33px;font-size:11.3px;color:#0a500a"><span class="o">1</span>0</div>
<div class="t sv" style="right:429.42px;top:335.33px;font-size:11.3px;color:#1c3a1c">5</div>
<div class="t sv" style="right:344.63px;top:335.33px;font-size:11.3px;color:#2e2410">2.5</div>
<div class="t sv" style="right:259.84px;top:335.33px;font-size:11.3px;color:#2e1e10"><span class="o">1</span>.25</div>
<div class="t sv" style="right:175.05px;top:335.33px;font-size:11.3px;color:#4a1010">0</div>
<div class="t sv" style="right:90.26px;top:335.33px;font-size:11.3px;color:#5a1414">-2.5</div>
<div class="t sv" style="right:5.47px;top:335.33px;font-size:11.3px;color:#b80606">-5</div>
<div class="t rn" style="left:0.30px;top:358.95px;font-size:10.2px;">121</div>
<div class="lab" style="left:41.80px;top:357.93px;height:26.60px">Lower lip to upper lip ratio</div>
<div class="t g" style="left:126.60px;top:367.72px;font-size:11px;">male</div>
<div class="t dv" style="left:211.00px;top:367.61px;font-size:11.3px;">(<span class="o">1</span>.6, 2.2)</div>
<div class="t dv" style="left:295.70px;top:367.61px;font-size:11.3px;">(<span class="o">1</span>.3, 2.5)</div>
<div class="t dv" style="left:380.00px;top:367.61px;font-size:11.3px;">(<span class="o">1</span>.<span class="o">1</span>, 2.7)</div>
<div class="t dv" style="left:464.90px;top:367.61px;font-size:11.3px;">(0.9, 2.9)</div>
<div class="t dv" style="left:549.30px;top:367.61px;font-size:11.3px;">(0.6, 3.2)</div>
<div class="t dg" style="left:634.70px;top:367.61px;font-size:11.3px;">(0.1, 3.5)</div>
<div class="t dg" style="left:720.00px;top:367.61px;font-size:11.3px;">(0.1, 5)</div>
<div class="t rn" style="left:0.30px;top:383.56px;font-size:10.2px;">122</div>
<div class="t g" style="left:126.60px;top:384.65px;font-size:11px;">female</div>
<div class="t dv" style="left:211.00px;top:384.55px;font-size:11.3px;">(<span class="o">1</span>.43, 2.08)</div>
<div class="t dv" style="left:295.70px;top:384.55px;font-size:11.3px;">(<span class="o">1</span>.<span class="o">1</span>3, 2.38)</div>
<div class="t dv" style="left:380.00px;top:384.55px;font-size:11.3px;">(0.93, 2.58)</div>
<div class="t dv" style="left:464.90px;top:384.55px;font-size:11.3px;">(0.83, 2.78)</div>
<div class="t dv" style="left:549.30px;top:384.55px;font-size:11.3px;">(0.43, 3.08)</div>
<div class="t dg" style="left:634.70px;top:384.55px;font-size:11.3px;">(0.1, 3.5)</div>
<div class="t dg" style="left:720.00px;top:384.55px;font-size:11.3px;">(0.1, 5)</div>
<div class="t rn" style="left:0.30px;top:401.29px;font-size:10.2px;">123</div>
<div class="t sc" style="left:41.60px;top:402.38px;font-size:11px;">Scoring</div>
<div class="t sv" style="right:514.21px;top:402.28px;font-size:11.3px;color:#0a500a">7.5</div>
<div class="t sv" style="right:429.42px;top:402.28px;font-size:11.3px;color:#1c3a1c">3.75</div>
<div class="t sv" style="right:344.63px;top:402.28px;font-size:11.3px;color:#2e2410"><span class="o">1</span>.88</div>
<div class="t sv" style="right:259.84px;top:402.28px;font-size:11.3px;color:#2e1e10">0.94</div>
<div class="t sv" style="right:175.05px;top:402.28px;font-size:11.3px;color:#4a1010">0</div>
<div class="t sv" style="right:90.26px;top:402.28px;font-size:11.3px;color:#5a1414">-3.75</div>
<div class="t sv" style="right:5.47px;top:402.28px;font-size:11.3px;color:#b80606">-7.5</div>
<div class="t rn" style="left:0.30px;top:425.90px;font-size:10.2px;">124</div>
<div class="lab" style="left:41.80px;top:424.88px;height:26.60px">Deviation of IAA(Ipsilateral</div>
<div class="t g" style="left:126.60px;top:434.67px;font-size:11px;">male</div>
<div class="t dg" style="left:211.70px;top:434.56px;font-size:11.3px;">(0, 2.5)</div>
<div class="t dg" style="left:296.40px;top:434.56px;font-size:11.3px;">(2.5, 5)</div>
<div class="t dg" style="left:380.70px;top:434.56px;font-size:11.3px;">(5, 10)</div>
<div class="t dg" style="left:465.60px;top:434.56px;font-size:11.3px;">(10, 15)</div>
<div class="t dg" style="left:550.00px;top:434.56px;font-size:11.3px;">(15,20)</div>
<div class="t dg" style="left:634.70px;top:434.56px;font-size:11.3px;">(20, 100)</div>
<div class="t rn" style="left:0.30px;top:450.51px;font-size:10.2px;">125</div>
<div class="t g" style="left:126.60px;top:451.60px;font-size:11px;">female</div>
<div class="t dg" style="left:211.70px;top:451.50px;font-size:11.3px;">(0, 2.5)</div>
<div class="t dg" style="left:296.40px;top:451.50px;font-size:11.3px;">(2.5, 5)</div>
<div class="t dg" style="left:380.70px;top:451.50px;font-size:11.3px;">(5, 10)</div>
<div class="t dg" style="left:465.60px;top:451.50px;font-size:11.3px;">(10, 15)</div>
<div class="t dg" style="left:550.00px;top:451.50px;font-size:11.3px;">(15,20)</div>
<div class="t dg" style="left:634.70px;top:451.50px;font-size:11.3px;">(20, 100)</div>
<div class="t rn" style="left:0.30px;top:468.25px;font-size:10.2px;">126</div>
<div class="t sc" style="left:41.60px;top:469.33px;font-size:11px;">Scoring</div>
<div class="t sv" style="right:514.21px;top:469.23px;font-size:11.3px;color:#0a500a">7</div>
<div class="t sv" style="right:429.42px;top:469.23px;font-size:11.3px;color:#1c3a1c">3.75</div>
<div class="t sv" style="right:344.63px;top:469.23px;font-size:11.3px;color:#2e2410"><span class="o">1</span>.88</div>
<div class="t sv" style="right:259.84px;top:469.23px;font-size:11.3px;color:#2e1e10">0.94</div>
<div class="t sv" style="right:175.05px;top:469.23px;font-size:11.3px;color:#4a1010">0</div>
<div class="t sv" style="right:90.26px;top:469.23px;font-size:11.3px;color:#5a1414">-3.75</div>
<div class="t rn" style="left:0.30px;top:485.98px;font-size:10.2px;">127</div>
<div class="lab" style="left:41.80px;top:490.23px;height:14.44px">Eyebrow tilt (°)</div>
<div class="t g" style="left:126.60px;top:487.07px;font-size:11px;">male</div>
<div class="t dv" style="left:211.00px;top:486.96px;font-size:11.3px;">(8, <span class="o">1</span>5)</div>
<div class="t dv" style="left:295.70px;top:486.96px;font-size:11.3px;">(5, <span class="o">1</span>8)</div>
<div class="t dv" style="left:380.00px;top:486.96px;font-size:11.3px;">(3, 20)</div>
<div class="t dv" style="left:464.90px;top:486.96px;font-size:11.3px;">(0, 22)</div>
<div class="t dv" style="left:549.30px;top:486.96px;font-size:11.3px;">(-2, 25)</div>
<div class="t dg" style="left:634.70px;top:486.96px;font-size:11.3px;">(-15, 40)</div>
<div class="t rn" style="left:0.30px;top:503.71px;font-size:10.2px;">128</div>
<div class="t g" style="left:126.60px;top:504.80px;font-size:11px;">female</div>
<div class="t dv" style="left:211.00px;top:504.70px;font-size:11.3px;">(<span class="o">1</span>3, 20.7)</div>
<div class="t dv" style="left:295.70px;top:504.70px;font-size:11.3px;">(<span class="o">1</span><span class="o">1</span>, 22.7)</div>
<div class="t dv" style="left:380.00px;top:504.70px;font-size:11.3px;">(8, 25.7)</div>
<div class="t dv" style="left:464.90px;top:504.70px;font-size:11.3px;">(6, 27.7)</div>
<div class="t dv" style="left:549.30px;top:504.70px;font-size:11.3px;">(4, 29.7)</div>
<div class="t dg" style="left:634.70px;top:504.70px;font-size:11.3px;">(-15, 40)</div>
<div class="t rn" style="left:0.30px;top:521.44px;font-size:10.2px;">129</div>
<div class="t sc" style="left:41.60px;top:522.53px;font-size:11px;">Scoring</div>
<div class="t sv" style="right:514.21px;top:522.43px;font-size:11.3px;color:#0a500a">6</div>
<div class="t sv" style="right:429.42px;top:522.43px;font-size:11.3px;color:#1c3a1c">3</div>
<div class="t sv" style="right:344.63px;top:522.43px;font-size:11.3px;color:#2e2410"><span class="o">1</span>.5</div>
<div class="t sv" style="right:259.84px;top:522.43px;font-size:11.3px;color:#2e1e10">0</div>
<div class="t sv" style="right:175.05px;top:522.43px;font-size:11.3px;color:#4a1010">-3</div>
<div class="t sv" style="right:90.26px;top:522.43px;font-size:11.3px;color:#5a1414">-6</div>
<div class="t rn" style="left:0.30px;top:546.05px;font-size:10.2px;">130</div>
<div class="lab" style="left:41.80px;top:545.03px;height:26.60px">Bitemporal width (%)</div>
<div class="t g" style="left:126.60px;top:554.82px;font-size:11px;">male</div>
<div class="t dv" style="left:211.00px;top:554.72px;font-size:11.3px;">(85%, 96%)</div>
<div class="t dv" style="left:295.70px;top:554.72px;font-size:11.3px;">(83%, 98%)</div>
<div class="t dv" style="left:380.00px;top:554.72px;font-size:11.3px;">(80%, <span class="o">1</span>0<span class="o">1</span>%)</div>
<div class="t dv" style="left:464.90px;top:554.72px;font-size:11.3px;">(78%, <span class="o">1</span>03%)</div>
<div class="t dv" style="left:549.30px;top:554.72px;font-size:11.3px;">(75%, <span class="o">1</span>06%)</div>
<div class="t dv" style="left:634.00px;top:554.72px;font-size:11.3px;">(72%, <span class="o">1</span>09%)</div>
<div class="t dg" style="left:720.00px;top:554.72px;font-size:11.3px;">(50%, 125%)</div>
<div class="t rn" style="left:0.30px;top:570.66px;font-size:10.2px;">131</div>
<div class="t g" style="left:126.60px;top:571.75px;font-size:11px;">female</div>
<div class="t dv" style="left:211.00px;top:571.65px;font-size:11.3px;">(8<span class="o">1</span>%, 94%)</div>
<div class="t dv" style="left:295.70px;top:571.65px;font-size:11.3px;">(78%,97%)</div>
<div class="t dv" style="left:380.00px;top:571.65px;font-size:11.3px;">(75%, <span class="o">1</span>00%)</div>
<div class="t dv" style="left:464.90px;top:571.65px;font-size:11.3px;">(72%, <span class="o">1</span>03%)</div>
<div class="t dv" style="left:549.30px;top:571.65px;font-size:11.3px;">(69%, <span class="o">1</span>06%)</div>
<div class="t dv" style="left:634.00px;top:571.65px;font-size:11.3px;">(67%, <span class="o">1</span>08%)</div>
<div class="t dg" style="left:720.00px;top:571.65px;font-size:11.3px;">(50%, 125%)</div>
<div class="t rn" style="left:0.30px;top:588.40px;font-size:10.2px;">132</div>
<div class="t sc" style="left:41.60px;top:589.49px;font-size:11px;">Scoring</div>
<div class="t sv" style="right:514.21px;top:589.38px;font-size:11.3px;color:#0a500a">5</div>
<div class="t sv" style="right:429.42px;top:589.38px;font-size:11.3px;color:#1c3a1c">2.5</div>
<div class="t sv" style="right:344.63px;top:589.38px;font-size:11.3px;color:#2e2410"><span class="o">1</span>.25</div>
<div class="t sv" style="right:259.84px;top:589.38px;font-size:11.3px;color:#2e1e10">0</div>
<div class="t sv" style="right:175.05px;top:589.38px;font-size:11.3px;color:#4a1010">-<span class="o">1</span>.25</div>
<div class="t sv" style="right:90.26px;top:589.38px;font-size:11.3px;color:#5a1414">-2.5</div>
<div class="t sv" style="right:5.47px;top:589.38px;font-size:11.3px;color:#b80606">-5</div>
<div class="t rn" style="left:0.30px;top:613.01px;font-size:10.2px;">133</div>
<div class="lab" style="left:41.80px;top:611.99px;height:26.60px">Lower third proportion (%)</div>
<div class="t g" style="left:126.60px;top:621.77px;font-size:11px;">male</div>
<div class="t dv" style="left:211.00px;top:621.67px;font-size:11.3px;">(32.8%, 36.2%)</div>
<div class="t dv" style="left:295.70px;top:621.67px;font-size:11.3px;">(3<span class="o">1</span>.8%, 37.2%)</div>
<div class="t dv" style="left:380.00px;top:621.67px;font-size:11.3px;">(30.6%, 38.8%)</div>
<div class="t dv" style="left:464.90px;top:621.67px;font-size:11.3px;">(29.4%, 39.6%)</div>
<div class="t dv" style="left:549.30px;top:621.67px;font-size:11.3px;">(28.8%, 40.2%)</div>
<div class="t dg" style="left:634.70px;top:621.67px;font-size:11.3px;">(20%, 45%)</div>
<div class="t rn" style="left:0.30px;top:637.62px;font-size:10.2px;">134</div>
<div class="t g" style="left:126.60px;top:638.70px;font-size:11px;">female</div>
<div class="t dv" style="left:211.00px;top:638.60px;font-size:11.3px;">(32.5%, 35.8%)</div>
<div class="t dv" style="left:295.70px;top:638.60px;font-size:11.3px;">(3<span class="o">1</span>.5%, 36.8%)</div>
<div class="t dv" style="left:380.00px;top:638.60px;font-size:11.3px;">(30.5%, 37.8%)</div>
<div class="t dv" style="left:464.90px;top:638.60px;font-size:11.3px;">(29.5%, 38.8%)</div>
<div class="t dv" style="left:549.30px;top:638.60px;font-size:11.3px;">(28.5%, 39.8%)</div>
<div class="t dg" style="left:634.70px;top:638.60px;font-size:11.3px;">(20%, 45%)</div>
<div class="t rn" style="left:0.30px;top:655.35px;font-size:10.2px;">135</div>
<div class="t sc" style="left:41.60px;top:656.44px;font-size:11px;">Scoring</div>
<div class="t sv" style="right:514.21px;top:656.33px;font-size:11.3px;color:#0a500a">5</div>
<div class="t sv" style="right:429.42px;top:656.33px;font-size:11.3px;color:#1c3a1c">2.5</div>
<div class="t sv" style="right:344.63px;top:656.33px;font-size:11.3px;color:#2e2410"><span class="o">1</span>.25</div>
<div class="t sv" style="right:259.84px;top:656.33px;font-size:11.3px;color:#2e1e10">0</div>
<div class="t sv" style="right:175.05px;top:656.33px;font-size:11.3px;color:#4a1010">-<span class="o">1</span>.25</div>
<div class="t sv" style="right:90.26px;top:656.33px;font-size:11.3px;color:#5a1414">-2.5</div>
<div class="t rn" style="left:0.30px;top:679.96px;font-size:10.2px;">136</div>
<div class="lab" style="left:41.80px;top:678.94px;height:26.60px">Ipsilateral alar angle (°)</div>
<div class="t g" style="left:126.60px;top:688.72px;font-size:11px;">male</div>
<div class="t dv" style="left:211.00px;top:688.62px;font-size:11.3px;">(8<span class="o">1</span>, 92)</div>
<div class="t dv" style="left:295.70px;top:688.62px;font-size:11.3px;">(79, 94)</div>
<div class="t dv" style="left:380.00px;top:688.62px;font-size:11.3px;">(76, 97)</div>
<div class="t dv" style="left:464.90px;top:688.62px;font-size:11.3px;">(74, 99)</div>
<div class="t dv" style="left:549.30px;top:688.62px;font-size:11.3px;">(72, <span class="o">1</span>0<span class="o">1</span>)</div>
<div class="t dv" style="left:634.00px;top:688.62px;font-size:11.3px;">(70, <span class="o">1</span>03)</div>
<div class="t dg" style="left:720.00px;top:688.62px;font-size:11.3px;">(50, 150)</div>
<div class="t rn" style="left:0.30px;top:704.57px;font-size:10.2px;">137</div>
<div class="t g" style="left:126.60px;top:705.66px;font-size:11px;">female</div>
<div class="t dv" style="left:211.00px;top:705.55px;font-size:11.3px;">(87, 98.5)</div>
<div class="t dv" style="left:295.70px;top:705.55px;font-size:11.3px;">(85, <span class="o">1</span>00.5)</div>
<div class="t dv" style="left:380.00px;top:705.55px;font-size:11.3px;">(82, <span class="o">1</span>03.5)</div>
<div class="t dv" style="left:464.90px;top:705.55px;font-size:11.3px;">(80, <span class="o">1</span>05.5)</div>
<div class="t dv" style="left:549.30px;top:705.55px;font-size:11.3px;">(78, <span class="o">1</span>07.5)</div>
<div class="t dv" style="left:634.00px;top:705.55px;font-size:11.3px;">(76, <span class="o">1</span><span class="o">1</span>0)</div>
<div class="t dg" style="left:720.00px;top:705.55px;font-size:11.3px;">(50, 150)</div>
<div class="t rn" style="left:0.30px;top:722.30px;font-size:10.2px;">138</div>
<div class="t sc" style="left:41.60px;top:723.39px;font-size:11px;">Scoring</div>
<div class="t sv" style="right:514.21px;top:723.29px;font-size:11.3px;color:#0a500a">2.5</div>
<div class="t sv" style="right:429.42px;top:723.29px;font-size:11.3px;color:#1c3a1c"><span class="o">1</span>.25</div>
<div class="t sv" style="right:344.63px;top:723.29px;font-size:11.3px;color:#2e2410">0.63</div>
<div class="t sv" style="right:259.84px;top:723.29px;font-size:11.3px;color:#2e1e10">0</div>
<div class="t sv" style="right:175.05px;top:723.29px;font-size:11.3px;color:#4a1010">-0.63</div>
<div class="t sv" style="right:90.26px;top:723.29px;font-size:11.3px;color:#5a1414">-<span class="o">1</span>.25</div>
<div class="t sv" style="right:5.47px;top:723.29px;font-size:11.3px;color:#b80606">-2.5</div>
<div class="tri" style="left:287.19px;top:2.20px"></div>
<div class="tri" style="left:371.98px;top:2.20px"></div>
<div class="tri" style="left:456.77px;top:2.20px"></div>
<div class="tri" style="left:541.56px;top:2.20px"></div>
<div class="tri" style="left:626.35px;top:2.20px"></div>
<div class="tri" style="left:711.14px;top:2.20px"></div>
<div class="tri" style="left:795.93px;top:2.20px;border-top-color:#700000"></div>
<div class="tri" style="left:117.60px;top:19.93px"></div>
<div class="tri" style="left:287.19px;top:81.55px"></div>
<div class="tri" style="left:371.98px;top:81.55px"></div>
<div class="tri" style="left:456.77px;top:81.55px"></div>
<div class="tri" style="left:541.56px;top:81.55px"></div>
<div class="tri" style="left:626.35px;top:81.55px"></div>
<div class="tri" style="left:711.14px;top:81.55px"></div>
<div class="tri" style="left:795.93px;top:81.55px;border-top-color:#700000"></div>
<div class="tri" style="left:117.60px;top:99.29px"></div>
<div class="tri" style="left:287.19px;top:134.75px"></div>
<div class="tri" style="left:371.98px;top:134.75px"></div>
<div class="tri" style="left:456.77px;top:134.75px"></div>
<div class="tri" style="left:541.56px;top:134.75px"></div>
<div class="tri" style="left:626.35px;top:134.75px"></div>
<div class="tri" style="left:711.14px;top:134.75px"></div>
<div class="tri" style="left:795.93px;top:134.75px;border-top-color:#700000"></div>
<div class="tri" style="left:117.60px;top:152.49px"></div>
<div class="tri" style="left:287.19px;top:201.71px"></div>
<div class="tri" style="left:371.98px;top:201.71px"></div>
<div class="tri" style="left:456.77px;top:201.71px"></div>
<div class="tri" style="left:541.56px;top:201.71px"></div>
<div class="tri" style="left:626.35px;top:201.71px"></div>
<div class="tri" style="left:711.14px;top:201.71px"></div>
<div class="tri" style="left:795.93px;top:201.71px;border-top-color:#700000"></div>
<div class="tri" style="left:117.60px;top:219.44px"></div>
<div class="tri" style="left:287.19px;top:268.66px"></div>
<div class="tri" style="left:371.98px;top:268.66px"></div>
<div class="tri" style="left:456.77px;top:268.66px"></div>
<div class="tri" style="left:541.56px;top:268.66px"></div>
<div class="tri" style="left:626.35px;top:268.66px"></div>
<div class="tri" style="left:711.14px;top:268.66px"></div>
<div class="tri" style="left:795.93px;top:268.66px;border-top-color:#700000"></div>
<div class="tri" style="left:117.60px;top:286.39px"></div>
<div class="tri" style="left:287.19px;top:335.61px"></div>
<div class="tri" style="left:371.98px;top:335.61px"></div>
<div class="tri" style="left:456.77px;top:335.61px"></div>
<div class="tri" style="left:541.56px;top:335.61px"></div>
<div class="tri" style="left:626.35px;top:335.61px"></div>
<div class="tri" style="left:711.14px;top:335.61px"></div>
<div class="tri" style="left:795.93px;top:335.61px;border-top-color:#700000"></div>
<div class="tri" style="left:117.60px;top:353.34px"></div>
<div class="tri" style="left:287.19px;top:402.56px"></div>
<div class="tri" style="left:371.98px;top:402.56px"></div>
<div class="tri" style="left:456.77px;top:402.56px"></div>
<div class="tri" style="left:541.56px;top:402.56px"></div>
<div class="tri" style="left:626.35px;top:402.56px"></div>
<div class="tri" style="left:711.14px;top:402.56px"></div>
<div class="tri" style="left:795.93px;top:402.56px;border-top-color:#700000"></div>
<div class="tri" style="left:117.60px;top:420.29px"></div>
<div class="tri" style="left:287.19px;top:469.51px"></div>
<div class="tri" style="left:371.98px;top:469.51px"></div>
<div class="tri" style="left:456.77px;top:469.51px"></div>
<div class="tri" style="left:541.56px;top:469.51px"></div>
<div class="tri" style="left:626.35px;top:469.51px"></div>
<div class="tri" style="left:711.14px;top:469.51px"></div>
<div class="tri" style="left:795.93px;top:469.51px;border-top-color:#700000"></div>
<div class="tri" style="left:117.60px;top:487.25px"></div>
<div class="tri" style="left:287.19px;top:522.71px"></div>
<div class="tri" style="left:371.98px;top:522.71px"></div>
<div class="tri" style="left:456.77px;top:522.71px"></div>
<div class="tri" style="left:541.56px;top:522.71px"></div>
<div class="tri" style="left:626.35px;top:522.71px"></div>
<div class="tri" style="left:711.14px;top:522.71px"></div>
<div class="tri" style="left:795.93px;top:522.71px;border-top-color:#700000"></div>
<div class="tri" style="left:117.60px;top:540.44px"></div>
<div class="tri" style="left:287.19px;top:589.66px"></div>
<div class="tri" style="left:371.98px;top:589.66px"></div>
<div class="tri" style="left:456.77px;top:589.66px"></div>
<div class="tri" style="left:541.56px;top:589.66px"></div>
<div class="tri" style="left:626.35px;top:589.66px"></div>
<div class="tri" style="left:711.14px;top:589.66px"></div>
<div class="tri" style="left:795.93px;top:589.66px;border-top-color:#700000"></div>
<div class="tri" style="left:117.60px;top:607.40px"></div>
<div class="tri" style="left:287.19px;top:656.62px"></div>
<div class="tri" style="left:371.98px;top:656.62px"></div>
<div class="tri" style="left:456.77px;top:656.62px"></div>
<div class="tri" style="left:541.56px;top:656.62px"></div>
<div class="tri" style="left:626.35px;top:656.62px"></div>
<div class="tri" style="left:711.14px;top:656.62px"></div>
<div class="tri" style="left:795.93px;top:656.62px;border-top-color:#700000"></div>
<div class="tri" style="left:117.60px;top:674.35px"></div>
<div class="tri" style="left:287.19px;top:723.57px"></div>
<div class="tri" style="left:371.98px;top:723.57px"></div>
<div class="tri" style="left:456.77px;top:723.57px"></div>
<div class="tri" style="left:541.56px;top:723.57px"></div>
<div class="tri" style="left:626.35px;top:723.57px"></div>
<div class="tri" style="left:711.14px;top:723.57px"></div>
<div class="tri" style="left:795.93px;top:723.57px;border-top-color:#700000"></div></div></body></html>
